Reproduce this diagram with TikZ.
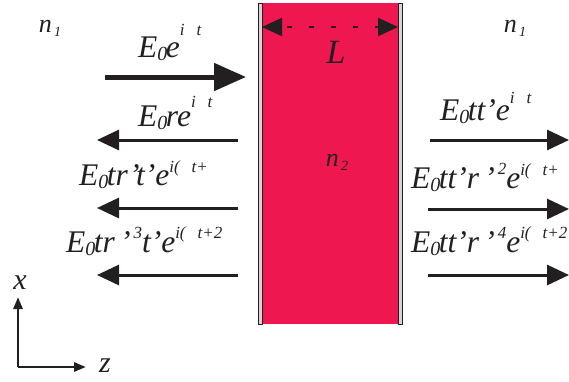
\documentclass[tikz,border=0pt]{standalone}
\usepackage{fontspec}
\setmainfont{Liberation Serif}
\usetikzlibrary{arrows.meta}
\definecolor{slabred}{HTML}{EE174F}
\definecolor{ink}{HTML}{231F20}
\definecolor{strip}{HTML}{D4D4D4}
\newcommand{\Sb}[1]{\raisebox{-3pt}{\fontsize{20}{20}\selectfont #1}\kern-1.5pt}
\newcommand{\Sq}[3]{\raisebox{#1}{\fontsize{#2}{#2}\selectfont #3}}
\newcommand{\gw}{\hphantom{ω}}
\begin{document}
\begin{tikzpicture}[x=1pt,y=-1pt,
  lab/.style={anchor=base west,inner sep=0pt,font=\fontsize{31.5}{31.5}\selectfont\itshape,text=ink},
  nlab/.style={inner sep=0pt,font=\fontsize{26}{26}\selectfont\itshape,text=ink},
  ray/.style={line width=3pt,draw=ink,-{Triangle[length=22pt,width=20pt]}},
  bigray/.style={line width=5pt,draw=ink,-{Triangle[length=32pt,width=27pt]}},
  axis/.style={line width=2.7pt,draw=ink,-{Triangle[length=12pt,width=9pt]}},
  stripbox/.style={fill=strip,draw=ink,line width=0.8pt}]
\useasboundingbox (0,0) rectangle (569,381);
% slab
\fill[slabred] (258,3) rectangle (402,324);
\draw[stripbox] (258,3) rectangle (262,324);
\draw[stripbox] (398,3) rectangle (402,324);
\coordinate (sl) at (262,27);
\coordinate (sr) at (398,27);
\draw[line width=2.2pt,draw=ink,dash pattern=on 5pt off 17pt,dash phase=-6pt,
  {Triangle[length=20pt,width=18pt]}-{Triangle[length=20pt,width=18pt]}] (sl) -- (sr);
\node[nlab,font=\fontsize{34}{34}\selectfont\itshape] (L) at (336,52) {L};
\node[nlab] (n2) at (337,162) {n\Sq{-4pt}{14}{\,2}};
\node[nlab] (n1a) at (50,28) {n\Sq{-4pt}{14}{\,1}};
\node[nlab] (n1b) at (515,28) {n\Sq{-4pt}{14}{\,1}};
% incident
\coordinate (i0) at (105,77);
\coordinate (i1) at (246,77);
\draw[bigray] (i0) -- (i1);
\node[lab] (Li) at (138,57) {E\Sb{0}e\Sq{22pt}{17}{i\gw t}};
% reflected
\coordinate (r1s) at (238,140); \coordinate (r1e) at (97,140);
\coordinate (r2s) at (238,208); \coordinate (r2e) at (97,208);
\coordinate (r3s) at (238,275); \coordinate (r3e) at (97,275);
\draw[ray] (r1s) -- (r1e);
\draw[ray] (r2s) -- (r2e);
\draw[ray] (r3s) -- (r3e);
\node[lab] (Lr1) at (138,126) {E\Sb{0}re\Sq{19pt}{17}{i\gw t}};
\node[lab] (Lr2) at (79,185) {E\Sb{0}tr’t’e\Sq{13pt}{17}{i(\gw t+}};
\node[lab] (Lr3) at (66,252) {E\Sb{0}tr\,’\Sq{14pt}{17}{\,3}t’e\Sq{14pt}{17}{i(\gw t+2}};
% transmitted
\coordinate (t1s) at (430,140); \coordinate (t1e) at (569,140);
\coordinate (t2s) at (428,209); \coordinate (t2e) at (569,209);
\coordinate (t3s) at (428,275); \coordinate (t3e) at (569,275);
\draw[ray] (t1s) -- (t1e);
\draw[ray] (t2s) -- (t2e);
\draw[ray] (t3s) -- (t3e);
\node[lab] (Lt1) at (440,120) {E\Sb{0}tt’e\Sq{17pt}{17}{i\gw t}};
\node[lab] (Lt2) at (411,188) {E\Sb{0}tt’r\,’\Sq{14pt}{17}{\,2}e\Sq{13pt}{17}{i(\gw t+}};
\node[lab] (Lt3) at (411,252) {E\Sb{0}tt’r\,’\Sq{14pt}{17}{\,4}e\Sq{14pt}{17}{i(\gw t+2}};
% axes
\coordinate (o) at (18,367);
\coordinate (ax) at (18,297);
\coordinate (az) at (86,367);
\draw[axis] (o) -- (ax);
\draw[axis] (o) -- (az);
\node[nlab,font=\fontsize{30}{30}\selectfont\itshape] (xl) at (20,283) {x};
\node[nlab,font=\fontsize{30}{30}\selectfont\itshape] (zl) at (105,366) {z};
\end{tikzpicture}
\end{document}
